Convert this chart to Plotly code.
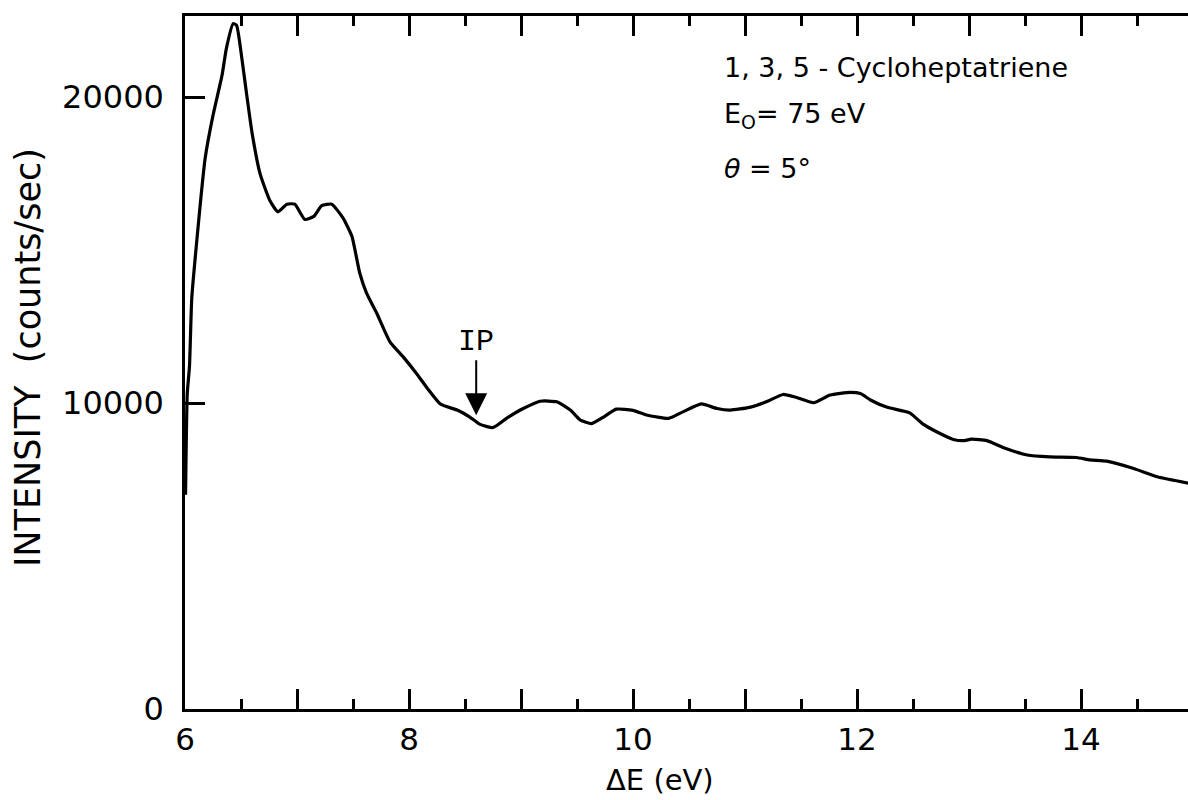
import plotly.graph_objects as go

# Energy-loss spectrum of 1,3,5-cycloheptatriene
energy_ev = [6.005, 6.02, 6.04, 6.06, 6.09, 6.18, 6.25, 6.33, 6.37, 6.43, 6.46, 6.51, 6.55, 6.60,
             6.67, 6.76, 6.83, 6.91, 6.98, 7.07, 7.15, 7.22, 7.31, 7.41, 7.49, 7.56, 7.62, 7.71,
             7.83, 7.95, 8.07, 8.16, 8.28, 8.43, 8.54, 8.63, 8.75, 8.87, 9.02, 9.17, 9.32, 9.44,
             9.53, 9.63, 9.74, 9.85, 10.0, 10.12, 10.32, 10.45, 10.61, 10.75, 10.87, 11.04, 11.19,
             11.34, 11.46, 11.61, 11.76, 11.94, 12.03, 12.12, 12.27, 12.47, 12.59, 12.71, 12.86,
             12.96, 13.02, 13.16, 13.31, 13.52, 13.72, 13.96, 14.08, 14.23, 14.47, 14.68, 14.96]
counts = [7000, 10300, 11200, 13400, 14700, 18000, 19400, 20700, 21600, 22400, 22350, 21200, 20100,
          18800, 17500, 16600, 16250, 16500, 16500, 16000, 16100, 16450, 16500, 16050, 15450, 14250,
          13600, 12950, 12000, 11500, 10950, 10500, 9970, 9770, 9550, 9310, 9200, 9500, 9820, 10060,
          10040, 9770, 9440, 9330, 9550, 9800, 9760, 9610, 9500, 9720, 9970, 9820, 9770, 9860, 10040,
          10280, 10180, 10010, 10260, 10350, 10310, 10100, 9860, 9680, 9310, 9060, 8810, 8770, 8820,
          8770, 8540, 8300, 8240, 8220, 8140, 8100, 7860, 7590, 7380]

x_major = [6, 7, 8, 9, 10, 11, 12, 13, 14]
x_labels = ["6", "", "8", "", "10", "", "12", "", "14"]
y_ticks = [0, 10000, 20000]
y_labels = ["0", "10000", "20000"]

ip_energy = 8.6
ip_counts = 9600

FONT = "DejaVu Sans"

fig = go.Figure()
fig.add_trace(go.Scatter(
    x=energy_ev, y=counts, mode="lines",
    line=dict(color="black", width=3.2, shape="spline", smoothing=0.5),
    showlegend=False, hoverinfo="skip",
))

fig.update_layout(
    width=1188, height=800,
    margin=dict(l=185, r=0, t=16, b=91),
    paper_bgcolor="white", plot_bgcolor="white",
    font=dict(family=FONT, color="black"),
    xaxis=dict(
        range=[6, 14.955], showgrid=False, zeroline=False,
        showline=True, linecolor="black", linewidth=2.5, mirror="allticks",
        tickmode="array", tickvals=x_major, ticktext=x_labels,
        ticks="inside", ticklen=20, tickwidth=2.5, tickcolor="black",
        minor=dict(dtick=0.5, tick0=6, ticks="inside", ticklen=10, tickwidth=2.5, tickcolor="black"),
        tickfont=dict(size=31, family=FONT),
        ticklabelstandoff=1,
    ),
    yaxis=dict(
        range=[0, 22650], showgrid=False, zeroline=False,
        showline=True, linecolor="black", linewidth=2.5, mirror=False,
        tickmode="array", tickvals=y_ticks, ticktext=y_labels,
        ticks="inside", ticklen=20, tickwidth=2.5, tickcolor="black",
        tickfont=dict(size=32, family=FONT),
        ticklabelstandoff=12,
    ),
)

annotations = [
    dict(x=660, y=780, text="ΔE (eV)", font=dict(size=29)),
    dict(x=28, y=358, text="INTENSITY  (counts/sec)", textangle=-90, font=dict(size=35)),
    dict(x=722, y=68, text="1, 3, 5 - Cycloheptatriene", xanchor="left", font=dict(size=27)),
    dict(x=722, y=116, text="E<sub>O</sub>= 75 eV", xanchor="left", font=dict(size=27)),
    dict(x=722, y=168, text="<i>θ</i> = 5°", xanchor="left", font=dict(size=27)),
]
# pixel-placed labels converted to paper coordinates
plot_l, plot_r, plot_t, plot_b = 185, 1188, 16, 709
for a in annotations:
    a.setdefault("xanchor", "center")
    a["yanchor"] = "middle"
    a["showarrow"] = False
    a["xref"] = "paper"
    a["yref"] = "paper"
    a["x"] = (a["x"] - plot_l) / (plot_r - plot_l)
    a["y"] = (plot_b - a["y"]) / (plot_b - plot_t)
    fig.add_annotation(**a)

fig.add_annotation(
    x=ip_energy, y=ip_counts, xref="x", yref="y",
    ax=ip_energy, ay=12000, axref="x", ayref="y",
    text="IP", font=dict(size=30, family="Liberation Mono"),
    showarrow=True, arrowhead=2, arrowsize=2.2, arrowwidth=2, arrowcolor="black",
)

fig.write_html("out.html")
